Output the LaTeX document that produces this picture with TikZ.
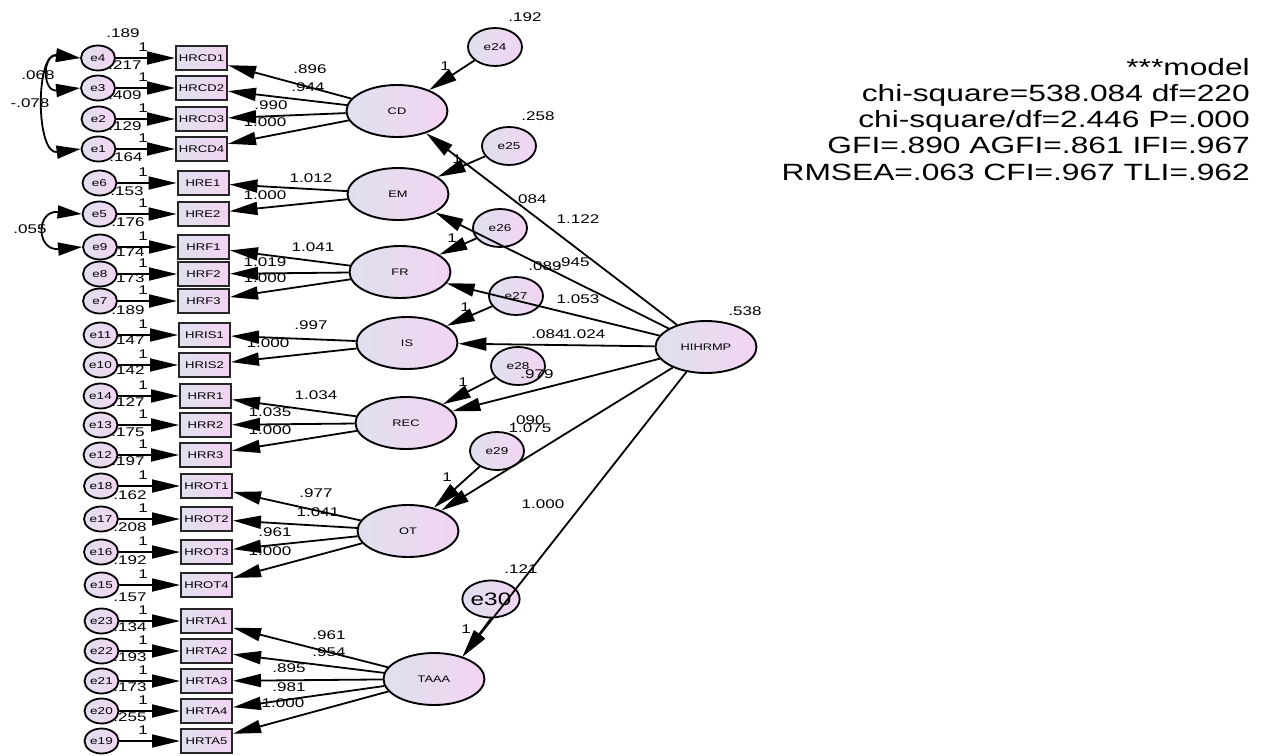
\documentclass[tikz,border=0pt]{standalone}
\usepackage{fontspec}
\setmainfont[FakeStretch=1.35]{Liberation Sans}
\usetikzlibrary{arrows.meta,shapes.geometric}
\definecolor{lavA}{RGB}{224,224,238}
\definecolor{lavB}{RGB}{242,212,242}
\tikzset{
  ln/.style={line width=1.8pt},
  arr/.style={ln,-{Triangle[length=28pt,width=13pt]}},
  cov/.style={ln,{Triangle[length=24pt,width=13pt]}-{Triangle[length=24pt,width=13pt]}},
  grad/.style={left color=lavA,right color=lavB},
  obs/.style={draw=black!85,line width=2pt,grad,minimum width=51pt,minimum height=24pt,inner sep=0pt,font=\fontsize{9.7}{10}\selectfont},
  err/.style={ellipse,draw,line width=1.8pt,grad,minimum width=34pt,minimum height=25pt,inner sep=0pt,font=\fontsize{10}{10}\selectfont},
  lat/.style={ellipse,draw,line width=1.9pt,grad,minimum width=101pt,minimum height=52pt,inner sep=0pt,font=\fontsize{9.5}{10}\selectfont},
  dist/.style={ellipse,draw,line width=1.8pt,grad,minimum width=54pt,minimum height=38pt,inner sep=0pt,font=\fontsize{10}{10}\selectfont},
  lbl/.style={inner sep=0pt,font=\fontsize{12.6}{13}\selectfont},
}
\begin{document}
\begin{tikzpicture}[x=1pt,y=-1pt]
\useasboundingbox (0,0) rectangle (1266,755);
% indicators with error terms
\foreach \n/\y/\e/\bx/\ex in {
  HRCD1/58/e4/201.5/98, HRCD2/88/e3/201.5/98, HRCD3/119/e2/201.5/98.5, HRCD4/149/e1/201.5/98.5,
  HRE1/183/e6/203/99.5, HRE2/214/e5/203/99.5,
  HRF1/247/e9/203.5/100, HRF2/274/e8/203.5/100, HRF3/301/e7/203.5/100,
  HRIS1/335/e11/204.5/100.5, HRIS2/365/e10/204.5/100.5,
  HRR1/396/e14/205.5/100.5, HRR2/425/e13/205.5/100.5, HRR3/455/e12/205.5/100.5,
  HROT1/486/e18/206.5/101, HROT2/519/e17/206.5/101, HROT3/552/e16/206.5/101, HROT4/585/e15/206.5/101.5,
  HRTA1/621/e23/206.5/101.5, HRTA2/651/e22/206.5/101.5, HRTA3/681/e21/206.5/101.5, HRTA4/711/e20/206.5/101.5, HRTA5/741/e19/206.5/101.5}
{
  \node[obs] (\n) at (\bx,\y) {\n};
  \node[err] (\e) at (\ex,\y) {\e};
  \draw[arr] (\e) -- (\n);
  \node[lbl] at (143,\y-11) {1};
}
% error variances
\foreach \v/\x/\y in {.189/123/33, .217/125/65, .409/125/95, .129/125/126, .164/126/157, .153/127/191,
  .176/128/222, .174/128/252, .173/128/278, .189/128/310, .147/128/340, .142/128/370,
  .127/128/402, .175/128/432, .197/128/461, .162/130/495, .208/130/527, .192/130/560,
  .157/130/597, .134/130/627, .193/130/657, .173/130/687, .255/130/717}
  \node[lbl] at (\x,\y) {\v};
% latent variables
\node[lat] (CD) at (397,111) {CD};
\node[lat] (EM) at (398,194) {EM};
\node[lat] (FR) at (400,272) {FR};
\node[lat] (IS) at (407,343) {IS};
\node[lat] (REC) at (406,423) {REC};
\node[lat] (OT) at (408,531) {OT};
\node[lat] (TAAA) at (434,679) {TAAA};
\node[lat] (HIHRMP) at (706,347) {HIHRMP};
% disturbances
\node[dist] (e24) at (495,47) {e24};
\node[dist] (e25) at (509,146) {e25};
\node[dist] (e26) at (500,228) {e26};
\node[dist] (e27) at (516,296) {e27};
\node[dist] (e28) at (518,366) {e28};
\node[dist] (e29) at (497,451) {e29};
\node[dist,minimum width=52pt,minimum height=37pt,font=\fontsize{18}{18}\selectfont] (e30) at (491,599) {e30};
% loadings
\foreach \a/\b in {CD/HRCD1,CD/HRCD2,CD/HRCD3,CD/HRCD4,EM/HRE1,EM/HRE2,FR/HRF1,FR/HRF2,FR/HRF3,
  IS/HRIS1,IS/HRIS2,REC/HRR1,REC/HRR2,REC/HRR3,OT/HROT1,OT/HROT2,OT/HROT3,OT/HROT4,
  TAAA/HRTA1,TAAA/HRTA2,TAAA/HRTA3,TAAA/HRTA4,TAAA/HRTA5}
  \draw[arr] (\a) -- (\b);
% disturbance paths
\foreach \a/\b in {e24/CD,e25/EM,e26/FR,e27/IS,e28/REC,e29/OT}
  \draw[arr] (\a) -- (\b);
\draw[arr] (e30.south) -- (TAAA.38);
% structural paths
\foreach \b in {CD,EM,FR,IS,REC,OT}
  \draw[arr] (HIHRMP) -- (\b);
\draw[arr] (HIHRMP) -- (TAAA.38);
% covariances
\draw[cov] (e4.west) .. controls +(-38,-4) and +(-38,4) .. (e3.west);
\draw[cov] (e4.west) .. controls +(-45,-6) and +(-45,6) .. (e1.west);
\draw[cov] (e5.west) .. controls +(-46,-4) and +(-46,4) .. (e9.west);
% labels
\foreach \v/\x/\y in {.068/38/75, -.078/30/103, .055/30/229,
  .896/310/69, .944/308/87, .990/271/105, 1.000/265/122,
  1.012/311/178, 1.000/265/195,
  1.041/313/247, 1.019/265/262, 1.000/265/278,
  .997/311/325, 1.000/268/343,
  1.034/316/395, 1.035/270/412, 1.000/270/430,
  .977/316/493, 1.041/318/512, .961/275/532, 1.000/270/551,
  .961/329/635, .954/329/652, .895/289/668, .981/289/687, 1.000/283/703,
  1/445/66, 1/457/159, 1/452/238, 1/465/307, 1/463/382, 1/447/477, 1/466/629,
  .192/525/17, .258/538/116, .084/530/199, .089/545/266, .084/548/334, .090/528/420, .121/521/569,
  1.122/578/219, .945/573/262, 1.053/578/299, 1.024/584/334, .979/537/374, 1.075/530/428, 1.000/543/504,
  .538/745/311}
  \node[lbl] at (\x,\y) {\v};
% fit indices
\node[anchor=north east,align=right,inner sep=0pt,font=\fontsize{23.5}{26.25}\selectfont] (fit) at (1250,58)
  {***model\\chi-square=538.084 df=220\\chi-square/df=2.446 P=.000\\GFI=.890 AGFI=.861 IFI=.967\\RMSEA=.063 CFI=.967 TLI=.962};
\end{tikzpicture}
\end{document}
